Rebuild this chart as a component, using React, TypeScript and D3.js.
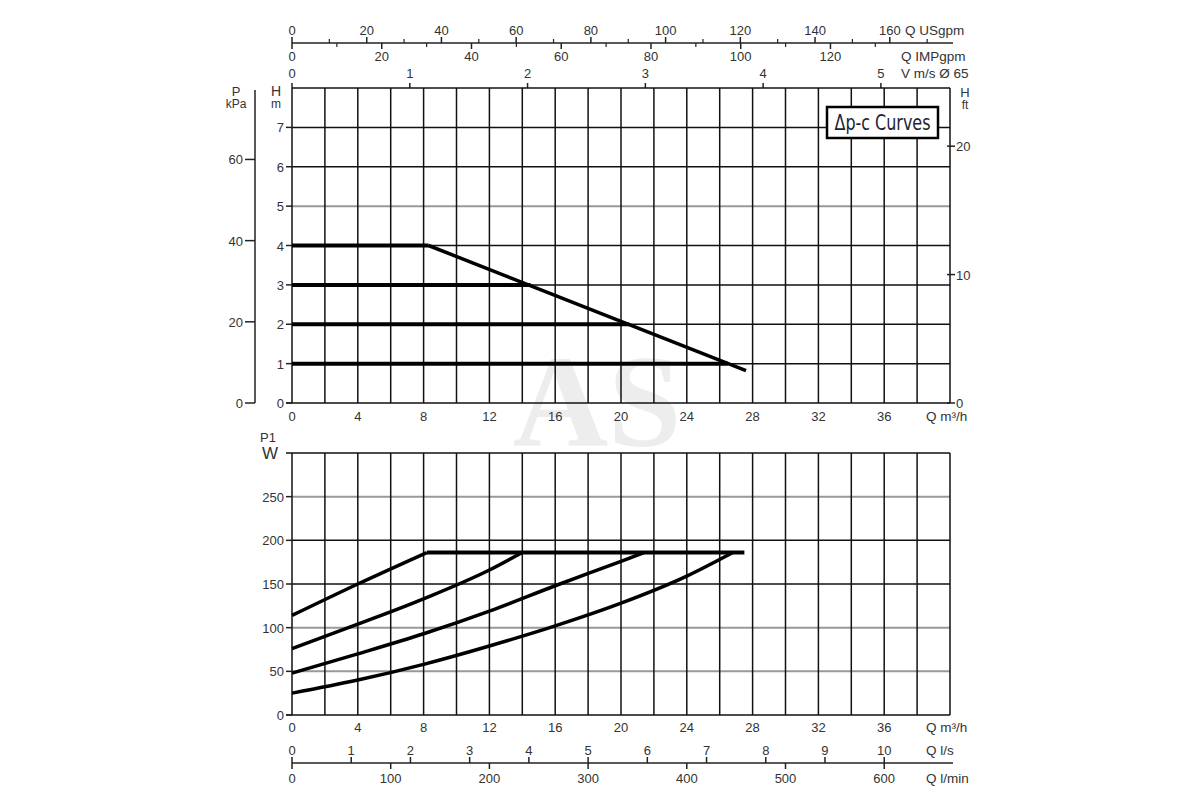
import React from "react";
import * as d3 from "d3";

// flow ticks (m3/h)
const flowTicks = [0, 4, 8, 12, 16, 20, 24, 28, 32, 36];
const flowGrid = d3.range(0, 41, 2);

// head chart
const headTicks = [0, 1, 2, 3, 4, 5, 6, 7];
const kpaTicks = [0, 20, 40, 60];
const ftTicks = [0, 10, 20];
const grayHeadLines = [5];

// constant pressure lines: [head m, end flow m3/h]
const dpcLevels = [
  { h: 4, q: 8.3 },
  { h: 3, q: 14.5 },
  { h: 2, q: 20.5 },
  { h: 1, q: 26.5 },
];
const dpcLimit: [number, number][] = [
  [8.3, 4],
  [27.6, 0.82],
];

// power chart
const powerTicks = [0, 50, 100, 150, 200, 250];
const grayPowerLines = [50, 100, 250];
const powerMax: [number, number][] = [
  [8.2, 186],
  [27.5, 186],
];
const powerCurves: [number, number][][] = [
  [[0, 114], [4, 150], [8.2, 186]],
  [[0, 76], [4, 104], [8, 133], [12, 166], [14, 186]],
  [[0, 48], [4, 70], [8, 93], [12, 119], [16, 148], [20, 176], [21.4, 186]],
  [[0, 25], [4, 40], [8, 58], [12, 79], [16, 102], [20, 128], [24, 159], [26.8, 186]],
];

// secondary flow scales
const usGpmMajor = [0, 20, 40, 60, 80, 100, 120, 140, 160];
const usGpmMinor = [10, 30, 50, 70, 90, 110, 130, 150, 170];
const impGpmMajor = [0, 20, 40, 60, 80, 100, 120];
const impGpmMinor = [10, 30, 50, 70, 90, 110, 130];
const velTicks = [0, 1, 2, 3, 4, 5];
const lsTicks = [0, 1, 2, 3, 4, 5, 6, 7, 8, 9, 10];
const lminTicks = [0, 100, 200, 300, 400, 500, 600];

const FONT = "Liberation Sans, Arial, sans-serif";
const TXT = "#333";

export default function App() {
  const L = 292, R = 950;
  const x = d3.scaleLinear().domain([0, 40]).range([L, R]);
  const usX = d3.scaleLinear().domain([0, 40 * 4.403]).range([L, R]);
  const impX = d3.scaleLinear().domain([0, 40 * 3.666]).range([L, R]);
  const vX = d3.scaleLinear().domain([0, 40 / 7.16]).range([L, R]);
  const lsX = d3.scaleLinear().domain([0, 40 / 3.6]).range([L, R]);
  const lminX = d3.scaleLinear().domain([0, 40 / 0.06]).range([L, R]);

  const hT = 88, hB = 403;
  const yH = d3.scaleLinear().domain([0, 8]).range([hB, hT]);
  const yKpa = d3.scaleLinear().domain([0, 8 * 9.7]).range([hB, hT]);
  const yFt = d3.scaleLinear().domain([0, 8 * 3.066]).range([hB, hT]);

  const pT = 453, pB = 715;
  const yP = d3.scaleLinear().domain([0, 300]).range([pB, pT]);

  const headLine = d3.line<[number, number]>().x((d) => x(d[0])).y((d) => yH(d[1]));
  const powLine = d3
    .line<[number, number]>()
    .x((d) => x(d[0]))
    .y((d) => yP(d[1]))
    .curve(d3.curveMonotoneX);

  const grid = (yTop: number, yBot: number) =>
    flowGrid.map((q) => (
      <line key={"v" + q} x1={x(q)} x2={x(q)} y1={yTop} y2={yBot} stroke="#111" strokeWidth={1.5} />
    ));

  return (
    <svg
      width={1200}
      height={800}
      style={{ position: "absolute", left: 0, top: 0, display: "block", background: "#fff" }}
      fontFamily={FONT}
    >
      {/* watermark */}
      <text
        x={597}
        y={446}
        textAnchor="middle"
        fontFamily="Liberation Serif, serif"
        fontWeight="bold"
        fontSize={132}
        fill="#ededed"
      >
        AS
      </text>

      {/* top flow axes */}
      <line x1={L} x2={953} y1={43} y2={43} stroke="#222" strokeWidth={1.5} />
      {usGpmMajor.map((v) => (
        <g key={"us" + v}>
          <line x1={usX(v)} x2={usX(v)} y1={37} y2={43} stroke="#222" strokeWidth={1.5} />
          <text x={usX(v)} y={35} textAnchor="middle" fontSize={13} fill={TXT}>{v}</text>
        </g>
      ))}
      {usGpmMinor.map((v) => (
        <line key={"usm" + v} x1={usX(v)} x2={usX(v)} y1={39} y2={43} stroke="#222" strokeWidth={1.2} />
      ))}
      {impGpmMajor.map((v) => (
        <g key={"imp" + v}>
          <line x1={impX(v)} x2={impX(v)} y1={43} y2={49} stroke="#222" strokeWidth={1.5} />
          <text x={impX(v)} y={61} textAnchor="middle" fontSize={13} fill={TXT}>{v}</text>
        </g>
      ))}
      {impGpmMinor.map((v) => (
        <line key={"impm" + v} x1={impX(v)} x2={impX(v)} y1={43} y2={47} stroke="#222" strokeWidth={1.2} />
      ))}
      <text x={905} y={35} fontSize={13.5} fill={TXT}>Q USgpm</text>
      <text x={901} y={61} fontSize={13.5} fill={TXT}>Q IMPgpm</text>
      <text x={901} y={78} fontSize={13.5} fill={TXT}>V m/s Ø 65</text>
      {velTicks.map((v) => (
        <g key={"v" + v}>
          <line x1={vX(v)} x2={vX(v)} y1={83} y2={hT} stroke="#222" strokeWidth={1.5} />
          <text x={vX(v)} y={78} textAnchor="middle" fontSize={13} fill={TXT}>{v}</text>
        </g>
      ))}

      {/* head chart grid */}
      {headTicks.slice(1).map((h) => (
        <line
          key={"h" + h}
          x1={L}
          x2={R}
          y1={yH(h)}
          y2={yH(h)}
          stroke={grayHeadLines.includes(h) ? "#999" : "#111"}
          strokeWidth={grayHeadLines.includes(h) ? 2 : 1.5}
        />
      ))}
      {grid(hT, hB)}
      <line x1={L} x2={R} y1={hT} y2={hT} stroke="#111" strokeWidth={1.5} />
      <line x1={L - 6} x2={R} y1={hB} y2={hB} stroke="#111" strokeWidth={1.5} />

      {/* head axis (m) */}
      <text x={276} y={96} textAnchor="middle" fontSize={14} fill={TXT}>H</text>
      <text x={276} y={108} textAnchor="middle" fontSize={12} fill={TXT}>m</text>
      {headTicks.map((h) => (
        <g key={"ht" + h}>
          <line x1={L - 6} x2={L} y1={yH(h)} y2={yH(h)} stroke="#222" strokeWidth={1.5} />
          <text x={L - 8} y={yH(h) + 5} textAnchor="end" fontSize={13} fill={TXT}>{h}</text>
        </g>
      ))}

      {/* pressure axis (kPa) */}
      <line x1={255} x2={255} y1={hT + 2} y2={hB} stroke="#222" strokeWidth={1.5} />
      <text x={236} y={96} textAnchor="middle" fontSize={13} fill={TXT}>P</text>
      <text x={236} y={108} textAnchor="middle" fontSize={12} fill={TXT}>kPa</text>
      {kpaTicks.map((v) => (
        <g key={"kp" + v}>
          <line x1={245} x2={255} y1={yKpa(v)} y2={yKpa(v)} stroke="#222" strokeWidth={1.5} />
          <text x={243} y={yKpa(v) + 5} textAnchor="end" fontSize={13} fill={TXT}>{v}</text>
        </g>
      ))}

      {/* head axis (ft) */}
      <text x={965} y={97} textAnchor="middle" fontSize={13} fill={TXT}>H</text>
      <text x={965} y={109} textAnchor="middle" fontSize={12} fill={TXT}>ft</text>
      {ftTicks.map((v) => (
        <g key={"ft" + v}>
          <line x1={R - 3} x2={R + 5} y1={yFt(v)} y2={yFt(v)} stroke="#222" strokeWidth={1.5} />
          <text x={R + 6} y={yFt(v) + 5} fontSize={13} fill={TXT}>{v}</text>
        </g>
      ))}

      {/* flow labels under head chart */}
      {flowTicks.map((q) => (
        <text key={"fq" + q} x={x(q)} y={421} textAnchor="middle" fontSize={13} fill={TXT}>{q}</text>
      ))}
      <text x={926} y={421} fontSize={13.5} fill={TXT}>Q m³/h</text>

      {/* Δp-c curves */}
      {dpcLevels.map((d) => (
        <path key={"dpc" + d.h} d={headLine([[0, d.h], [d.q, d.h]]) ?? ""} fill="none" stroke="#000" strokeWidth={4} />
      ))}
      <path d={headLine(dpcLimit) ?? ""} fill="none" stroke="#000" strokeWidth={3.5} />

      {/* title box */}
      <rect x={827} y={107} width={111} height={31} fill="#fff" stroke="#000" strokeWidth={2.5} />
      <text
        x={882.5}
        y={130}
        textAnchor="middle"
        fontFamily="Liberation Sans Narrow, DejaVu Sans Condensed, sans-serif"
        fontSize={21}
        textLength={96}
        lengthAdjust="spacingAndGlyphs"
        fill="#1d2433"
      >
        Δp-c Curves
      </text>

      {/* power chart grid */}
      {powerTicks.slice(1).map((p) => (
        <line
          key={"p" + p}
          x1={L}
          x2={R}
          y1={yP(p)}
          y2={yP(p)}
          stroke={grayPowerLines.includes(p) ? "#999" : "#111"}
          strokeWidth={grayPowerLines.includes(p) ? 2 : 1.5}
        />
      ))}
      {grid(pT, pB)}
      <line x1={L - 6} x2={R} y1={pT} y2={pT} stroke="#111" strokeWidth={1.5} />
      <line x1={L - 6} x2={R} y1={pB} y2={pB} stroke="#111" strokeWidth={1.5} />
      <text x={268} y={442} textAnchor="middle" fontSize={13} fill={TXT}>P1</text>
      <text x={270} y={459} textAnchor="middle" fontSize={17} fill={TXT}>W</text>
      {powerTicks.map((p) => (
        <g key={"pt" + p}>
          <line x1={L - 6} x2={L} y1={yP(p)} y2={yP(p)} stroke="#222" strokeWidth={1.5} />
          <text x={L - 8} y={yP(p) + 5} textAnchor="end" fontSize={13} fill={TXT}>{p}</text>
        </g>
      ))}
      {flowTicks.map((q) => (
        <text key={"pq" + q} x={x(q)} y={732} textAnchor="middle" fontSize={13} fill={TXT}>{q}</text>
      ))}
      <text x={926} y={732} fontSize={13.5} fill={TXT}>Q m³/h</text>

      {/* power curves */}
      <path d={powLine(powerMax) ?? ""} fill="none" stroke="#000" strokeWidth={4} />
      {powerCurves.map((c, i) => (
        <path key={"pc" + i} d={powLine(c) ?? ""} fill="none" stroke="#000" strokeWidth={3.5} strokeLinejoin="round" />
      ))}

      {/* bottom flow axes */}
      <line x1={L} x2={953} y1={763} y2={763} stroke="#222" strokeWidth={1.5} />
      {lsTicks.map((v) => (
        <g key={"ls" + v}>
          <line x1={lsX(v)} x2={lsX(v)} y1={757} y2={763} stroke="#222" strokeWidth={1.5} />
          <text x={lsX(v)} y={755} textAnchor="middle" fontSize={13} fill={TXT}>{v}</text>
        </g>
      ))}
      {lminTicks.map((v) => (
        <g key={"lm" + v}>
          <line x1={lminX(v)} x2={lminX(v)} y1={763} y2={769} stroke="#222" strokeWidth={1.5} />
          <text x={lminX(v)} y={783} textAnchor="middle" fontSize={13} fill={TXT}>{v}</text>
        </g>
      ))}
      <text x={926} y={755} fontSize={13.5} fill={TXT}>Q l/s</text>
      <text x={926} y={783} fontSize={13.5} fill={TXT}>Q l/min</text>
    </svg>
  );
}
